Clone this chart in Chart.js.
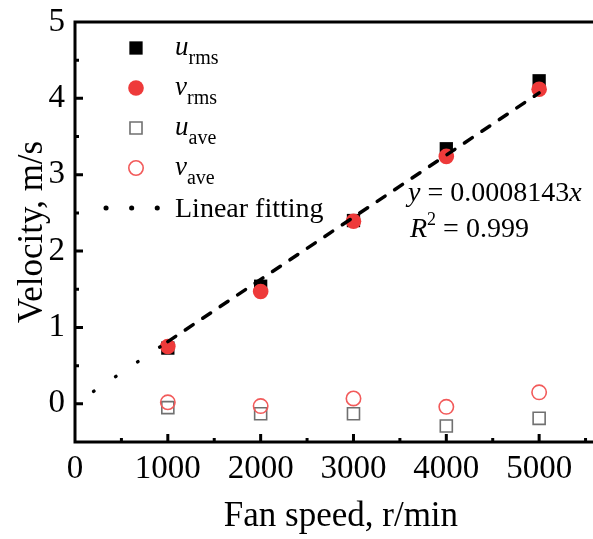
<!DOCTYPE html>
<html>
<head>
<meta charset="utf-8">
<script src="https://cdn.jsdelivr.net/npm/chart.js@4.4.1/dist/chart.umd.min.js"></script>
<style>
  html, body { margin: 0; padding: 0; background: #fff; overflow: hidden; }
  #wrap { width: 593px; height: 539px; overflow: hidden; }
</style>
</head>
<body>
<div id="wrap"><canvas id="chartVelocity" width="617" height="539"></canvas></div>
<script>
// fan speed (r/min) and measured velocities (m/s)
const fanSpeed = [1000, 2000, 3000, 4000, 5000];
const uRms = [0.73, 1.54, 2.40, 3.34, 4.23];
const vRms = [0.75, 1.47, 2.39, 3.24, 4.12];
const uAve = [-0.05, -0.13, -0.13, -0.29, -0.19];
const vAve = [0.02, -0.03, 0.07, -0.04, 0.15];

// legend labels: italic symbol + subscript
const seriesNames = ['u', 'v', 'u', 'v'];
const seriesSubs = ['rms', 'rms', 'ave', 'ave'];
const fitLabel = 'Linear fitting';

// linear fit through the origin
const fitSlope = 0.0008143;
const fitR2 = '0.999';
const fitX = [200, 1000, 5000];

const xTicks = [0, 1000, 2000, 3000, 4000, 5000];
const yTicks = [0, 1, 2, 3, 4, 5];

const serif = "'Liberation Serif', 'Times New Roman', serif";
const red = '#ee3a3a';

const points = ys => fanSpeed.map((x, i) => ({ x: x, y: ys[i] }));

// markers drawn the same way in the plot and in the legend
function drawMarker(ctx, ds, x, y) {
    ctx.save();
    ctx.lineWidth = ds.borderWidth;
    ctx.strokeStyle = ds.borderColor;
    ctx.fillStyle = ds.backgroundColor;
    ctx.beginPath();
    if (ds.pointStyle === 'rect') {
        const h = Math.SQRT1_2 * ds.pointRadius;
        ctx.rect(x - h, y - h, 2 * h, 2 * h);
    } else {
        ctx.arc(x, y, ds.pointRadius, 0, Math.PI * 2);
    }
    ctx.fill();
    if (ds.borderWidth > 0) ctx.stroke();
    ctx.restore();
}

const framePlugin = {
    id: 'frameAndNotes',
    afterDraw(chart) {
        const ctx = chart.ctx;
        const a = chart.chartArea;
        const xs = chart.scales.x, ys = chart.scales.y;
        ctx.save();
        ctx.strokeStyle = '#000';
        ctx.lineWidth = 3;
        ctx.lineCap = 'square';

        // box
        ctx.beginPath();
        ctx.rect(a.left, a.top, a.right - a.left, a.bottom - a.top);
        ctx.stroke();

        // inward ticks, major and minor
        ctx.lineCap = 'butt';
        ctx.beginPath();
        for (let v = 0; v <= xs.max; v += 500) {
            const px = xs.getPixelForValue(v);
            if (px <= a.left + 2 || px >= a.right) continue;
            const len = v % 1000 === 0 ? 8 : 4;
            ctx.moveTo(px, a.bottom);
            ctx.lineTo(px, a.bottom - len);
        }
        for (let v = -0.5; v < ys.max; v += 0.5) {
            const py = ys.getPixelForValue(v);
            if (py >= a.bottom - 2 || py <= a.top + 2) continue;
            const len = Math.abs(v % 1) < 1e-9 ? 8 : 4;
            ctx.moveTo(a.left, py);
            ctx.lineTo(a.left + len, py);
        }
        ctx.stroke();

        // legend
        const lx = a.left + 61, tx = a.left + 100;
        let ly = a.top + 26;
        chart.data.datasets.forEach((ds, i) => {
            if (i >= seriesNames.length) return;
            drawMarker(ctx, ds, lx, ly);
            ctx.fillStyle = '#000';
            ctx.textBaseline = 'alphabetic';
            ctx.textAlign = 'left';
            ctx.font = 'italic 27px ' + serif;
            ctx.fillText(seriesNames[i], tx, ly + 7);
            const w = ctx.measureText(seriesNames[i]).width;
            ctx.font = '20px ' + serif;
            ctx.fillText(seriesSubs[i], tx + w, ly + 16);
            ly += 40;
        });
        ctx.save();
        ctx.lineWidth = 5;
        ctx.lineCap = 'round';
        ctx.setLineDash([0.1, 25.5]);
        ctx.beginPath();
        ctx.moveTo(lx - 30, ly);
        ctx.lineTo(lx + 24, ly);
        ctx.stroke();
        ctx.restore();
        ctx.fillStyle = '#000';
        ctx.font = '28px ' + serif;
        ctx.fillText(fitLabel, tx, ly + 9);

        // fit equation
        let ex = a.left + 333, ey = a.top + 179;
        ctx.font = 'italic 28px ' + serif;
        ctx.fillText('y', ex, ey);
        ex += ctx.measureText('y').width;
        ctx.font = '28px ' + serif;
        const mid = ' = ' + fitSlope;
        ctx.fillText(mid, ex, ey);
        ex += ctx.measureText(mid).width;
        ctx.font = 'italic 28px ' + serif;
        ctx.fillText('x', ex, ey);

        ex = a.left + 335; ey += 36;
        ctx.fillText('R', ex, ey);
        ex += ctx.measureText('R').width;
        ctx.font = '18px ' + serif;
        ctx.fillText('2', ex, ey - 12);
        ex += ctx.measureText('2').width;
        ctx.font = '28px ' + serif;
        ctx.fillText(' = ' + fitR2, ex, ey);
        ctx.restore();
    }
};

new Chart(document.getElementById('chartVelocity').getContext('2d'), {
    type: 'scatter',
    data: {
        datasets: [
            { label: 'u_rms', data: points(uRms), pointStyle: 'rect', pointRadius: 9.4, pointHoverRadius: 9.4,
              backgroundColor: '#000', borderColor: '#000', borderWidth: 0, order: 2 },
            { label: 'v_rms', data: points(vRms), pointStyle: 'circle', pointRadius: 7.8, pointHoverRadius: 7.8,
              backgroundColor: red, borderColor: red, borderWidth: 0, order: 1 },
            { label: 'u_ave', data: points(uAve), pointStyle: 'rect', pointRadius: 8.5, pointHoverRadius: 8.5,
              backgroundColor: 'rgba(0,0,0,0)', borderColor: '#707070', borderWidth: 1.6, order: 4 },
            { label: 'v_ave', data: points(vAve), pointStyle: 'circle', pointRadius: 7.2, pointHoverRadius: 7.2,
              backgroundColor: 'rgba(0,0,0,0)', borderColor: '#f25a5a', borderWidth: 1.6, order: 3 },
            { label: fitLabel, data: fitX.map(x => ({ x: x, y: fitSlope * x })), showLine: true,
              borderColor: '#000', borderWidth: 3.5, borderCapStyle: 'round', pointRadius: 0,
              segment: { borderDash: c => c.p0DataIndex === 0 ? [0.5, 26] : [9.5, 11.5] }, order: 0 }
        ]
    },
    options: {
        responsive: false,
        animation: false,
        layout: { padding: { top: 22, right: 0, left: 0, bottom: 0 } },
        plugins: { legend: { display: false }, tooltip: { enabled: false } },
        scales: {
            x: {
                type: 'linear', min: 0, max: 5730,
                afterBuildTicks: s => { s.ticks = xTicks.map(v => ({ value: v })); },
                afterFit: s => { s.height = 97; s.paddingLeft = 0; s.paddingRight = 0; },
                grid: { display: false, drawTicks: false },
                border: { display: false },
                ticks: { color: '#000', font: { family: serif, size: 33 }, padding: 8, maxRotation: 0,
                         callback: v => String(v) },
                title: { display: true, text: 'Fan speed, r/min', color: '#000',
                         font: { family: serif, size: 35 }, padding: { top: 0, bottom: 1 } }
            },
            y: {
                type: 'linear', min: -0.5, max: 5,
                afterBuildTicks: s => { s.ticks = yTicks.map(v => ({ value: v })); },
                afterFit: s => { s.width = 75; s.paddingTop = 0; s.paddingBottom = 0; },
                grid: { display: false, drawTicks: false },
                border: { display: false },
                ticks: { color: '#000', font: { family: serif, size: 33 }, padding: 10 },
                title: { display: true, text: 'Velocity, m/s', color: '#000',
                         font: { family: serif, size: 35 }, padding: { top: 12, bottom: 0 } }
            }
        }
    },
    plugins: [framePlugin]
});
</script>
</body>
</html>
